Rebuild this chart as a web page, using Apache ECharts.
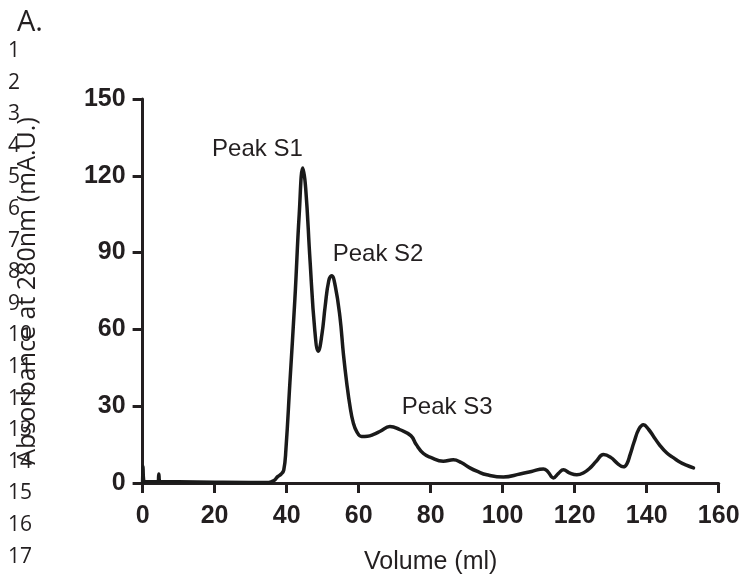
<!DOCTYPE html>
<html>
<head>
<meta charset="utf-8">
<script src="https://cdn.jsdelivr.net/npm/echarts@6/dist/echarts.min.js"></script>
<style>
html,body{margin:0;padding:0;background:#fff;}
#c{width:747px;height:580px;}
</style>
</head>
<body>
<div id="c"></div>
<script>
// Elution volume (ml) and absorbance at 280 nm (mA.U.)
var volume = [0, 0.1, 0.3, 1, 4.3, 4.5, 4.8, 10, 20, 30, 35, 36.5, 37.5, 38.5, 39.2, 39.8, 40.9, 42.3, 43.5, 44.5,
  45.3, 46.5, 47.8, 48.8, 49.8, 50.7, 51.7, 52.5, 53.5, 54.8, 55.8, 56.7, 57.6, 58.5, 59.5, 60.8, 62.5, 64, 66, 68.7,
  71.5, 74.5, 76, 78, 80, 83.5, 86.3, 88.5, 90.9, 93, 95.6, 100.2, 104.8, 108, 111.3, 112.5, 114.1, 115.5, 116.9, 118.5,
  120.6, 122.5, 124.3, 126, 128, 130, 132, 133.5, 134.5, 135.4, 136.5, 137.8, 139.1, 140.5, 141.9, 143.5, 145.6, 147.5, 149.3, 151, 153];
var absorbance = [0, 6.5, 1, 0.5, 0.5, 3.5, 0.6, 0.5, 0.3, 0.2, 0.2, 1, 2.5, 3.5, 5, 13, 39, 72, 105, 123,
  115, 87, 60, 51.5, 58, 69, 79, 81, 77, 65, 50, 39, 30, 23.6, 20, 18.2, 18.3, 18.9, 20.2, 22.1,
  20.8, 18.5, 15, 11.5, 10, 8.5, 9.1, 8, 5.9, 4.5, 3.2, 2.3, 3.5, 4.5, 5.5, 4.5, 2, 3.8, 5.2, 4,
  3.2, 4, 5.9, 8.5, 11.1, 10, 7.5, 6.3, 7.5, 11.1, 16, 21, 22.8, 21, 18.2, 15, 11.7, 9.8, 8.1, 7, 5.9];
var xTicks = [0, 20, 40, 60, 80, 100, 120, 140, 160];
var yTicks = [0, 30, 60, 90, 120, 150];
var peakNames = ['Peak S1', 'Peak S2', 'Peak S3'];
var peakLabelX = [31.9, 65.4, 84.6];
var peakLabelY = [130.4, 89.3, 29.5];
var lineNumbers = ['1','2','3','4','5','6','7','8','9','10','11','12','13','14','15','16','17'];

var curve = volume.map(function (v, i) { return [v, absorbance[i]]; });
var peaks = peakNames.map(function (n, i) { return { name: n, value: [peakLabelX[i], peakLabelY[i]] }; });

var ink = '#231f20';
var graphics = [{
  type: 'text', left: 17, top: 8,
  style: { text: 'A.', fontFamily: 'Open Sans', fontSize: 29, fill: ink }
}, {
  type: 'text', x: 28, y: 291, rotation: Math.PI / 2,
  style: { text: 'Absorbance at 280nm (mA.U.)', fontFamily: 'Open Sans', fontSize: 25,
    fill: ink, align: 'center', verticalAlign: 'middle' }
}];
lineNumbers.forEach(function (t, i) {
  graphics.push({
    type: 'text', x: 8, y: 51 + i * 31.6,
    style: { text: t, fontFamily: 'Open Sans', fontSize: 21, fill: ink, align: 'left', verticalAlign: 'middle' }
  });
});

var chart = echarts.init(document.getElementById('c'), null, { renderer: 'canvas' });
chart.setOption({
  animation: false,
  backgroundColor: '#fff',
  grid: { left: 142.6, right: 28.3, top: 99, bottom: 96.7, containLabel: false },
  xAxis: {
    type: 'value', min: xTicks[0], max: xTicks[xTicks.length - 1], interval: 20,
    name: 'Volume (ml)', nameLocation: 'middle', nameGap: 67,
    nameTextStyle: { fontFamily: 'Liberation Sans', fontSize: 25, color: ink },
    axisLine: { show: true, lineStyle: { color: ink, width: 3 } },
    axisTick: { show: true, inside: false, length: 10, lineStyle: { color: ink, width: 3 } },
    axisLabel: { margin: 21, fontFamily: 'Liberation Sans', fontWeight: 'bold', fontSize: 25, color: ink },
    splitLine: { show: false }
  },
  yAxis: {
    type: 'value', min: yTicks[0], max: yTicks[yTicks.length - 1], interval: 30,
    axisLine: { show: true, lineStyle: { color: ink, width: 3 } },
    axisTick: { show: true, inside: false, length: 10, lineStyle: { color: ink, width: 3 } },
    axisLabel: { margin: 17, fontFamily: 'Liberation Sans', fontWeight: 'bold', fontSize: 25, color: ink },
    splitLine: { show: false }
  },
  series: [{
    type: 'line',
    data: curve,
    showSymbol: false,
    smooth: 0.45,
    lineStyle: { color: '#1a1a1a', width: 3.5, join: 'round', cap: 'round' },
    z: 3
  }, {
    type: 'scatter',
    data: peaks,
    symbolSize: 0,
    silent: true,
    itemStyle: { opacity: 1 },
    label: {
      show: true, position: 'inside', formatter: '{b}',
      fontFamily: 'Liberation Sans', fontSize: 24, color: ink
    }
  }],
  graphic: graphics
});
</script>
</body>
</html>
